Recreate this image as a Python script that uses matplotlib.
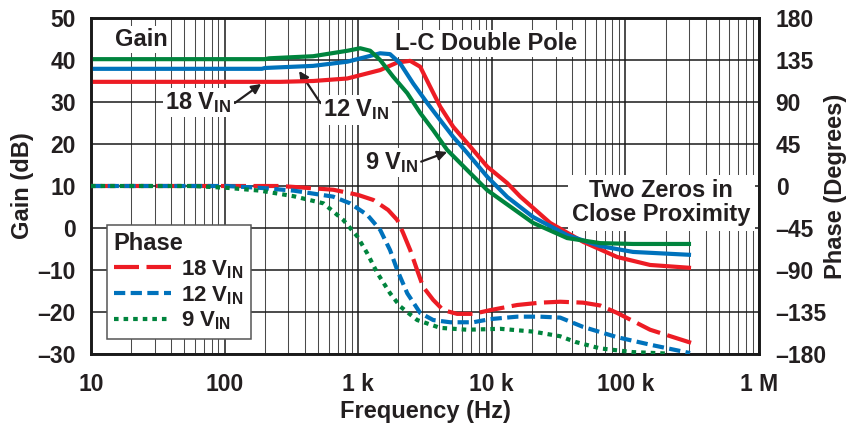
import matplotlib
matplotlib.use("Agg")
import matplotlib.pyplot as plt
from matplotlib.ticker import LogLocator, FixedLocator, NullFormatter

plt.rcParams['font.family'] = ['Liberation Sans', 'DejaVu Sans']
plt.rcParams['font.weight'] = 'bold'
plt.rcParams['axes.labelweight'] = 'bold'
plt.rcParams['mathtext.default'] = 'regular'

RED = '#ED1C24'
BLUE = '#0072BC'
GREEN = '#00843D'

# ---- Gain (dB) vs frequency (Hz) ----
gain_18v_f = [10, 260, 460, 830, 1460, 1960, 2450, 2910, 3460, 4110, 5140,
              6890, 9250, 13040, 16310, 27350, 48300, 86760, 153000, 310000]
gain_18v_db = [34.8, 34.8, 35.0, 35.6, 37.6, 39.4, 39.8, 38.4, 33.6, 28.9, 24.1,
               19.4, 14.6, 10.7, 7.5, 1.2, -3.3, -6.9, -8.8, -9.5]

gain_12v_f = [10, 190, 200, 460, 830, 1170, 1460, 1730, 2060, 2580, 3280, 4110,
              5140, 6540, 9250, 13040, 20410, 36650, 64720, 114200, 310000]
gain_12v_db = [37.9, 37.9, 38.1, 38.6, 39.6, 40.8, 41.6, 41.4, 39.2, 34.4, 29.8, 25.7,
               21.7, 17.9, 12.2, 7.4, 2.6, -1.7, -4.3, -5.7, -6.4]

gain_9v_f = [10, 200, 215, 460, 830, 1035, 1230, 1460, 1830, 2330, 2910, 3640,
             4630, 6540, 9250, 11560, 20410, 36650, 64720, 114200, 310000]
gain_9v_db = [40.2, 40.2, 40.4, 40.9, 42.2, 42.8, 42.2, 40.0, 36.0, 32.1, 27.4, 23.3,
              18.6, 13.8, 9.0, 6.8, 1.2, -2.4, -3.6, -3.8, -3.8]

# ---- Phase (degrees) vs frequency (Hz) ----
phase_18v_f = [10, 260, 330, 650, 1000, 1300, 1675, 1960, 2170, 2450, 2760, 3060,
               3640, 4330, 5500, 7260, 9735, 15490, 23020, 32500, 48300, 64720,
               86760, 153000, 310000]
phase_18v_deg = [0, 0, -1, -4, -9.6, -15, -25.7, -36.4, -50.4, -68.6, -90, -108,
                 -122, -133, -137, -137, -133, -127.5, -125, -124, -125, -128,
                 -136, -154, -168]

phase_12v_f = [10, 105, 185, 330, 650, 870, 1170, 1460, 1730, 1960, 2330, 2910,
               3640, 4880, 7260, 9735, 15490, 23020, 32500, 48300, 86760, 153000,
               305000]
phase_12v_deg = [0, 0, -2, -5, -11.4, -18.6, -31, -47, -68.6, -90, -115, -136,
                 -143.6, -146, -146, -142.6, -140, -140, -141, -151, -162, -170,
                 -179]

phase_9v_f = [10, 58, 105, 185, 330, 550, 773, 984, 1167, 1387, 1734, 2061, 2763,
              4106, 6544, 11560, 20410, 32500, 42070, 64720, 114200, 205000]
phase_9v_deg = [0, 0, -2, -5, -11, -18.6, -36.4, -54, -72, -93, -115, -129, -143.6,
                -152, -154, -153, -156, -161, -167, -174, -178, -179.5]

x_ticks = [10, 100, 1e3, 1e4, 1e5, 1e6]
x_tick_labels = ['10', '100', '1 k', '10 k', '100 k', '1 M']
gain_ticks = list(range(-30, 51, 10))
phase_ticks = list(range(-180, 181, 45))

series_labels = ['18 V$_{IN}$', '12 V$_{IN}$', '9 V$_{IN}$']

INK = '#231f20'


def dash_label(v):
    return str(v).replace('-', '\u2013')


fig = plt.figure(figsize=(8.58, 4.34), dpi=100)
ax = fig.add_axes([91 / 858, 1 - 354 / 434, 668 / 858, 336 / 434])
ax.set_xscale('log')
ax.set_xlim(10, 1e6)
ax.set_ylim(-30, 50)

# grid: decades and gain steps in black, 2..9 subdivisions lighter
ax.xaxis.set_major_locator(FixedLocator(x_ticks))
ax.xaxis.set_minor_locator(LogLocator(base=10, subs=range(2, 10), numticks=20))
ax.xaxis.set_minor_formatter(NullFormatter())
ax.set_xticks(x_ticks)
ax.set_xticklabels(x_tick_labels)
ax.set_yticks(gain_ticks)
ax.set_yticklabels([dash_label(v) for v in gain_ticks])
ax.grid(which='major', axis='both', color='#1a1a1a', lw=1.1, zorder=0)
ax.grid(which='minor', axis='x', color='#4a4a4a', lw=0.75, zorder=0)
ax.set_axisbelow(True)
for s in ax.spines.values():
    s.set_linewidth(1.9)
    s.set_color('#1a1a1a')
ax.tick_params(which='both', length=0)
ax.tick_params(axis='y', pad=11, labelsize=16.5, colors=INK)
ax.tick_params(axis='x', pad=14, labelsize=16.5, colors=INK)

gain_lw = 3.0
ax.plot(gain_18v_f, gain_18v_db, color=RED, lw=gain_lw, zorder=5, solid_capstyle='butt')
ax.plot(gain_12v_f, gain_12v_db, color=BLUE, lw=gain_lw, zorder=5, solid_capstyle='butt')
ax.plot(gain_9v_f, gain_9v_db, color=GREEN, lw=gain_lw, zorder=5, solid_capstyle='butt')

ax.set_xlabel('Frequency (Hz)', fontsize=17, fontweight='bold', color=INK)
ax.set_ylabel('Gain (dB)', fontsize=17, fontweight='bold', color=INK)
ax.xaxis.label.set_va('center')
ax.yaxis.label.set_va('center')
ax.xaxis.set_label_coords(0.5, -0.1726)
ax.yaxis.set_label_coords(-0.1018, 0.5)

# ---- phase axis ----
ax2 = ax.twinx()
ax2.set_ylim(-180, 180)
ax2.set_yticks(phase_ticks)
ax2.set_yticklabels([dash_label(v) for v in phase_ticks])
ax2.tick_params(which='both', length=0)
ax2.tick_params(axis='y', pad=12, labelsize=16.5, colors=INK)
for s in ax2.spines.values():
    s.set_linewidth(1.9)
    s.set_color('#1a1a1a')
ax2.set_ylabel('Phase (Degrees)', fontsize=17, fontweight='bold', color=INK, rotation=90)
ax2.yaxis.label.set_va('center')
ax2.yaxis.set_label_coords(1.1138, 0.5)

ph_lw = 3.0
l18, = ax2.plot(phase_18v_f, phase_18v_deg, color=RED, lw=ph_lw, dashes=(6.0, 1.8),
                dash_capstyle='butt', zorder=5)
l12, = ax2.plot(phase_12v_f, phase_12v_deg, color=BLUE, lw=ph_lw, dashes=(2.7, 1.3),
                dash_capstyle='butt', zorder=5)
l9, = ax2.plot(phase_9v_f, phase_9v_deg, color=GREEN, lw=ph_lw, dashes=(1.1, 1.2),
               dash_capstyle='butt', zorder=5)

leg = ax2.legend([l18, l12, l9], series_labels, title='Phase',
                 loc='upper left', bbox_to_anchor=(16 / 668, 129 / 336),
                 borderaxespad=0, frameon=True, fancybox=False,
                 edgecolor='#555555', framealpha=1, fontsize=16,
                 title_fontproperties={'weight': 'bold', 'size': 17},
                 handlelength=2.6, handletextpad=0.45, labelspacing=0.15,
                 borderpad=0.3, alignment='left')
leg.get_frame().set_linewidth(1.1)
for t in leg.get_texts():
    t.set_color(INK)
leg.get_title().set_color(INK)

# ---- annotations on the gain plot ----
box = dict(facecolor='white', edgecolor='none', pad=1.5)
txt = dict(fontsize=17, color=INK, zorder=3)
ax.text(15.2, 44.8, 'Gain', ha='left', va='center', bbox=box, **txt)
ax.text(1891, 44.0, 'L-C Double Pole', ha='left', va='center', bbox=box, **txt)
ax.text(185000, 6.0, 'Two Zeros in\nClose Proximity', ha='center', va='center',
        linespacing=1.05, bbox=dict(facecolor='white', edgecolor='none', pad=3), **txt)

arrow = dict(arrowstyle='-|>', color=INK, lw=1.6, mutation_scale=14,
             shrinkA=1, shrinkB=0)
ax.annotate(series_labels[0], xy=(188, 34.3), xytext=(63.7, 29.8),
            ha='center', va='center', bbox=box,
            arrowprops=dict(relpos=(1.0, 0.4), **arrow), **txt)
ax.annotate(series_labels[1], xy=(361, 37.4), xytext=(971, 28.1),
            ha='center', va='center', bbox=box,
            arrowprops=dict(relpos=(0.0, 0.6), **arrow), **txt)
ax.annotate(series_labels[2], xy=(4634, 18.1), xytext=(1766, 15.5),
            ha='center', va='center', bbox=box,
            arrowprops=dict(relpos=(1.0, 0.5), **arrow), **txt)

fig.savefig('out.png', dpi=100)
